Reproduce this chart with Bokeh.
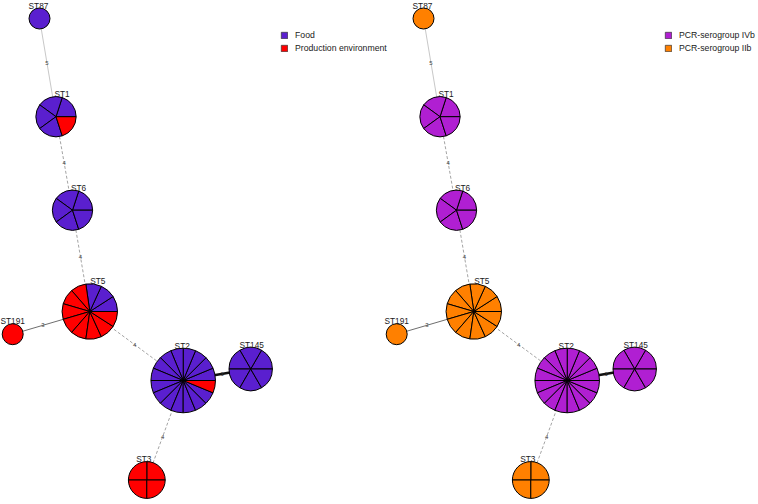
import math
from bokeh.plotting import figure
from bokeh.models import ColumnDataSource, Range1d, Legend, LegendItem
from bokeh.core.properties import value
from bokeh.embed import file_html
from bokeh.resources import INLINE

# ---------------- data ----------------
st_names = ["ST87", "ST1", "ST6", "ST5", "ST191", "ST2", "ST145", "ST3"]
# network layout coordinates (same layout for both panels)
layout_x = [39.0, 55.5, 72.0, 89.3, 12.2, 182.7, 250.2, 146.3]
layout_y = [18.0, 116.2, 209.7, 311.0, 333.7, 380.0, 368.5, 479.5]

# isolates per ST by source
food = [1, 4, 5, 3, 0, 15, 6, 0]
production = [0, 1, 0, 8, 1, 1, 0, 4]
# isolates per ST by PCR serogroup
serogroup_ivb = [0, 5, 5, 0, 0, 16, 6, 0]
serogroup_iib = [1, 0, 0, 11, 1, 0, 0, 4]

edge_from = ["ST87", "ST1", "ST6", "ST5", "ST5", "ST2", "ST2"]
edge_to = ["ST1", "ST6", "ST5", "ST191", "ST2", "ST145", "ST3"]
edge_dist = [5, 4, 4, 3, 4, 1, 4]

source_labels = ["Food", "Production environment"]
serogroup_labels = ["PCR-serogroup IVb", "PCR-serogroup IIb"]

# ---------------- styles ----------------
FOOD_C = "#5a1fcf"
PROD_C = "#ff0000"
IVB_C = "#b01fd2"
IIB_C = "#ff8000"
PANEL_DX = 384.0
FONT = "Liberation Sans"
NAN = float("nan")

edge_styles = {
    5: ("#c8c8c8", "solid", 1.0),
    4: ("#9a9a9a", "3 2", 0.9),
    3: ("#6e6e6e", "solid", 1.0),
    1: ("#111111", "solid", 2.6),
}
label_dx = [-1, 6, 6, 8, 0, -1, 1, -3]


def radius(n):
    return 10.5 * n ** 0.405


W, H = 758, 504
p = figure(width=W, height=H, x_range=Range1d(0, W), y_range=Range1d(-H, 0),
           output_backend="svg", toolbar_location=None, min_border=0,
           x_axis_type=None, y_axis_type=None)
p.grid.visible = False
p.outline_line_color = None
p.background_fill_color = "white"
p.border_fill_color = "white"

idx = {n: i for i, n in enumerate(st_names)}

panels = [
    (0.0, [food, production], [FOOD_C, PROD_C], source_labels, 280),
    (PANEL_DX, [serogroup_ivb, serogroup_iib], [IVB_C, IIB_C], serogroup_labels, 664),
]

for dx, series, colors, labels, leg_x in panels:
    totals = [sum(v) for v in zip(*series)]
    rad = [radius(t) for t in totals]
    xs = [x + dx for x in layout_x]
    ys = [-y for y in layout_y]

    # edges
    for a, b, d in zip(edge_from, edge_to, edge_dist):
        i, j = idx[a], idx[b]
        col, dash, lw = edge_styles[d]
        p.segment(x0=[xs[i]], y0=[ys[i]], x1=[xs[j]], y1=[ys[j]],
                  line_color=col, line_dash=dash, line_width=lw)
        vx, vy = xs[j] - xs[i], ys[j] - ys[i]
        L = math.hypot(vx, vy)
        ux, uy = vx / L, vy / L
        sh = (rad[i] - rad[j]) / 2
        mx = (xs[i] + xs[j]) / 2 + sh * ux
        my = (ys[i] + ys[j]) / 2 + sh * uy
        p.text(x=[mx], y=[my], text=[str(d)], text_font=value(FONT),
               text_font_size="6px", text_color="#444444",
               text_align="center", text_baseline="middle")

    # nodes
    wx, wy, wr, ws, we, wc = [], [], [], [], [], []
    cx, cy, cr, cc = [], [], [], []
    for k in range(len(st_names)):
        n = totals[k]
        cats = []
        for ci, s in enumerate(series):
            cats += [colors[ci]] * s[k]
        if n == 1:
            cx.append(xs[k]); cy.append(ys[k]); cr.append(rad[k]); cc.append(cats[0])
            continue
        step = 2 * math.pi / n
        for m, c in enumerate(cats):
            wx.append(xs[k]); wy.append(ys[k]); wr.append(rad[k])
            ws.append(m * step); we.append((m + 1) * step); wc.append(c)
    p.wedge(x="x", y="y", radius="r", start_angle="s", end_angle="e",
            fill_color="c", line_color="black", line_width=1.0,
            source=ColumnDataSource(dict(x=wx, y=wy, r=wr, s=ws, e=we, c=wc)))
    p.circle(x="x", y="y", radius="r", fill_color="c", line_color="black",
             line_width=1.0,
             source=ColumnDataSource(dict(x=cx, y=cy, r=cr, c=cc)))

    # node labels
    p.text(x=xs, y=[ys[k] + rad[k] + 2.5 for k in range(len(st_names))],
           text=st_names, x_offset=label_dx, text_font=value(FONT),
           text_font_size="8.3px", text_color="#1a1a1a",
           text_align="center", text_baseline="alphabetic")

    # legend (key glyphs only; not plotted)
    items = []
    for lab, col in zip(labels, colors):
        r = p.quad(left=[NAN], right=[NAN], top=[NAN], bottom=[NAN],
                   fill_color=col, line_color="#333333", line_width=0.7)
        items.append(LegendItem(label=lab, renderers=[r]))
    leg = Legend(items=items, location=(leg_x, 451), orientation="vertical",
                 glyph_width=8, glyph_height=8, label_height=10,
                 label_standoff=7, spacing=3, padding=0, margin=0,
                 label_text_font=FONT, label_text_font_size="8.7px",
                 label_text_color="#1a1a1a",
                 background_fill_alpha=0, border_line_color=None)
    p.add_layout(leg, "center")

open("out.html", "w").write(file_html(p, INLINE))
